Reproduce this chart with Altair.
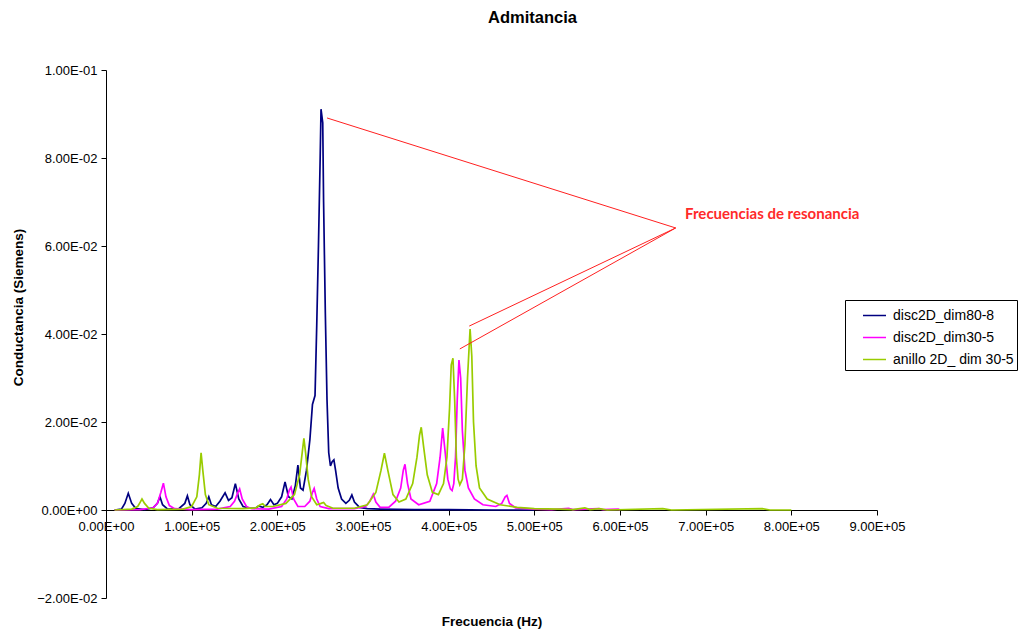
import altair as alt
import pandas as pd

# ---- Data (frequency in kHz, conductance in Siemens) ----
navy_f = [10, 18, 22, 26, 30, 35, 45, 55, 60, 63, 66, 72, 85, 92, 95, 98, 104, 112, 117, 120, 123, 128,
          133, 139, 143, 147, 151, 155, 160, 168, 175, 178, 183, 188, 192, 196, 200, 205, 209, 213, 217,
          221, 224, 227, 230, 234, 238, 241, 244, 246, 248, 250, 251, 253, 254, 256, 258, 260, 262, 264,
          266, 268, 271, 275, 280, 284, 287, 290, 296, 305, 320, 360, 400, 450, 500]
navy_g = [0.0000, 0.0002, 0.0015, 0.0038, 0.0015, 0.0003, 0.0001, 0.0005, 0.0015, 0.0030, 0.0012, 0.0002,
          0.0003, 0.0015, 0.0032, 0.0012, 0.0002, 0.0005, 0.0015, 0.0030, 0.0012, 0.0008, 0.0020, 0.0039,
          0.0022, 0.0028, 0.0060, 0.0025, 0.0008, 0.0004, 0.0004, 0.0009, 0.0006, 0.0012, 0.0024, 0.0012,
          0.0015, 0.0030, 0.0064, 0.0030, 0.0025, 0.0055, 0.0102, 0.0050, 0.0045, 0.0090, 0.0160, 0.0240,
          0.0260, 0.0420, 0.0600, 0.0800, 0.0911, 0.0880, 0.0700, 0.0450, 0.0250, 0.0130, 0.0100, 0.0110,
          0.0114, 0.0090, 0.0050, 0.0025, 0.0015, 0.0022, 0.0034, 0.0018, 0.0006, 0.0003, 0.0002, 0.0001,
          0.0001, 0.0000, 0.0000]

mag_f = [10, 40, 55, 60, 64, 67, 70, 74, 80, 100, 130, 145, 150, 154, 156, 159, 164, 170, 190, 205, 211,
         214, 216, 219, 224, 232, 238, 241, 243, 246, 250, 260, 290, 303, 308, 312, 315, 320, 330, 338, 344,
         347, 349, 352, 356, 365, 378, 386, 390, 393, 396, 399, 402, 404, 406, 408, 410, 412, 414, 416, 419,
         423, 430, 440, 455, 462, 466, 468, 471, 478, 500, 520, 540, 545, 575, 580, 598, 600]
mag_g = [0.0000, 0.0001, 0.0005, 0.0015, 0.0040, 0.0061, 0.0030, 0.0010, 0.0003, 0.0001, 0.0002, 0.0008,
         0.0020, 0.0040, 0.0048, 0.0025, 0.0008, 0.0003, 0.0002, 0.0008, 0.0025, 0.0045, 0.0052, 0.0025,
         0.0008, 0.0008, 0.0020, 0.0040, 0.0049, 0.0025, 0.0008, 0.0003, 0.0003, 0.0008, 0.0020, 0.0036,
         0.0018, 0.0006, 0.0006, 0.0020, 0.0050, 0.0090, 0.0104, 0.0060, 0.0025, 0.0012, 0.0020, 0.0060,
         0.0120, 0.0186, 0.0130, 0.0070, 0.0048, 0.0044, 0.0060, 0.0120, 0.0250, 0.0341, 0.0300, 0.0180,
         0.0090, 0.0050, 0.0025, 0.0012, 0.0008, 0.0015, 0.0030, 0.0033, 0.0015, 0.0005, 0.0002, 0.0001,
         0.0004, 0.0001, 0.0003, 0.0001, 0.0002, 0.0000]

grn_f = [10, 30, 37, 40, 42, 45, 50, 60, 90, 100, 106, 109, 111, 113, 116, 120, 130, 160, 175, 180, 183,
         186, 195, 210, 220, 226, 229, 231, 233, 236, 240, 246, 251, 254, 257, 265, 290, 305, 315, 321, 325,
         329, 335, 342, 350, 358, 363, 366, 368, 371, 375, 381, 388, 394, 398, 401, 403, 405, 407, 409, 411,
         413, 416, 419, 422, 425, 427, 429, 432, 436, 445, 460, 480, 500, 530, 545, 559, 565, 576, 585, 650,
         660, 766, 775, 800]
grn_g = [0.0000, 0.0002, 0.0008, 0.0018, 0.0025, 0.0015, 0.0004, 0.0001, 0.0002, 0.0008, 0.0030, 0.0080,
         0.0130, 0.0090, 0.0035, 0.0012, 0.0004, 0.0003, 0.0005, 0.0012, 0.0014, 0.0008, 0.0008, 0.0015,
         0.0035, 0.0080, 0.0130, 0.0163, 0.0130, 0.0070, 0.0030, 0.0012, 0.0015, 0.0017, 0.0010, 0.0004,
         0.0004, 0.0012, 0.0040, 0.0090, 0.0129, 0.0090, 0.0035, 0.0018, 0.0025, 0.0060, 0.0120, 0.0170,
         0.0188, 0.0140, 0.0080, 0.0040, 0.0035, 0.0060, 0.0120, 0.0230, 0.0330, 0.0345, 0.0250, 0.0120,
         0.0070, 0.0057, 0.0070, 0.0150, 0.0300, 0.0411, 0.0350, 0.0200, 0.0100, 0.0050, 0.0025, 0.0012,
         0.0006, 0.0003, 0.0002, 0.0001, 0.0005, 0.0001, 0.0003, 0.0000, 0.0003, 0.0000, 0.0003, 0.0000,
         0.0000]

series_names = ["disc2D_dim80-8", "disc2D_dim30-5", "anillo 2D_ dim 30-5"]
series_colors = ["#000080", "#FF00FF", "#99CC00"]

x_ticks = [0, 100000, 200000, 300000, 400000, 500000, 600000, 700000, 800000, 900000]
y_ticks = [-0.02, 0.0, 0.02, 0.04, 0.06, 0.08, 0.1]

# annotation segments (data units)
ann_x = [258000, 665000, 665000]
ann_y = [0.0891, 0.0641, 0.0641]
ann_x2 = [665000, 424000, 413000]
ann_y2 = [0.0641, 0.0418, 0.0366]
ann_text = ["Frecuencias de resonancia"]
ann_text_x = [676000]
ann_text_y = [0.0673]

# ---- Build tables ----
rows = []
for name, fs, gs in zip(series_names, [navy_f, mag_f, grn_f], [navy_g, mag_g, grn_g]):
    for i, (f, g) in enumerate(zip(fs, gs)):
        rows.append({"serie": name, "f": f * 1000, "g": g, "i": i})
df = pd.DataFrame(rows)
segs = pd.DataFrame({"x": ann_x, "y": ann_y, "x2": ann_x2, "y2": ann_y2})
txt = pd.DataFrame({"x": ann_text_x, "y": ann_text_y, "t": ann_text})

sci = ("replace(replace(format(datum.value, '.2e'), 'e-', 'E-0'), 'e+', 'E+0')")

FONT = "Liberation Sans"

xscale = alt.Scale(domain=[0, 900000], nice=False, zero=False)
yscale = alt.Scale(domain=[-0.02, 0.1], nice=False, zero=False)

lines = alt.Chart(df).mark_line(strokeWidth=1.7, clip=True).encode(
    x=alt.X("f:Q", scale=xscale,
            axis=alt.Axis(values=x_ticks, labelExpr=sci, offset=-88, grid=False,
                          domainColor="black", tickColor="black", tickSize=5,
                          labelFont=FONT, labelFontSize=13, labelColor="black",
                          labelFlush=False, labelOverlap=False, labelPadding=5,
                          title="Frecuencia (Hz)", titleFont=FONT, titleFontSize=13.5,
                          titleFontWeight="bold", titleColor="black", titleY=111,
                          titleBaseline="middle")),
    y=alt.Y("g:Q", scale=yscale,
            axis=alt.Axis(values=y_ticks, labelExpr=sci, grid=False,
                          domainColor="black", tickColor="black", tickSize=5,
                          labelFont=FONT, labelFontSize=13, labelColor="black",
                          labelFlush=False, labelOverlap=False, labelPadding=4,
                          title="Conductancia (Siemens)", titleFont=FONT, titleFontSize=13.5,
                          titleFontWeight="bold", titleColor="black", titleAngle=270,
                          titleX=-88, titleY=237, titleAlign="center",
                          titleBaseline="middle")),
    color=alt.Color("serie:N",
                    scale=alt.Scale(domain=series_names, range=series_colors),
                    legend=alt.Legend(orient="none", legendX=739, legendY=230, title=None,
                                      strokeColor="black", fillColor="white", padding=3,
                                      symbolType="stroke", symbolSize=529, symbolStrokeWidth=1.5,
                                      symbolOffset=14, labelOffset=6,
                                      labelFont=FONT, labelFontSize=14, labelColor="black",
                                      rowPadding=2)),
    detail="serie:N",
    order="i:Q",
)

rules = alt.Chart(segs).mark_rule(color="#FF2020", strokeWidth=1).encode(
    x="x:Q", y="y:Q", x2="x2:Q", y2="y2:Q"
)

label = alt.Chart(txt).mark_text(align="left", baseline="middle", font="Lato",
                                 fontWeight="bold", fontSize=15, color="#FF2A2A").encode(
    x="x:Q", y="y:Q", text="t:N"
)

chart = alt.layer(lines, rules, label).properties(
    width=771, height=528,
    background="white",
    autosize=alt.AutoSizeParams(type="none"),
    padding={"left": 106, "top": 70, "right": 146, "bottom": 34},
    title=alt.TitleParams("Admitancia", font=FONT, fontSize=16.5, fontWeight="bold",
                          color="black", anchor="middle", dx=41, offset=38),
).configure_view(stroke="transparent", strokeWidth=0)

chart.save("out.html", embed_options={"renderer": "svg", "actions": False})
